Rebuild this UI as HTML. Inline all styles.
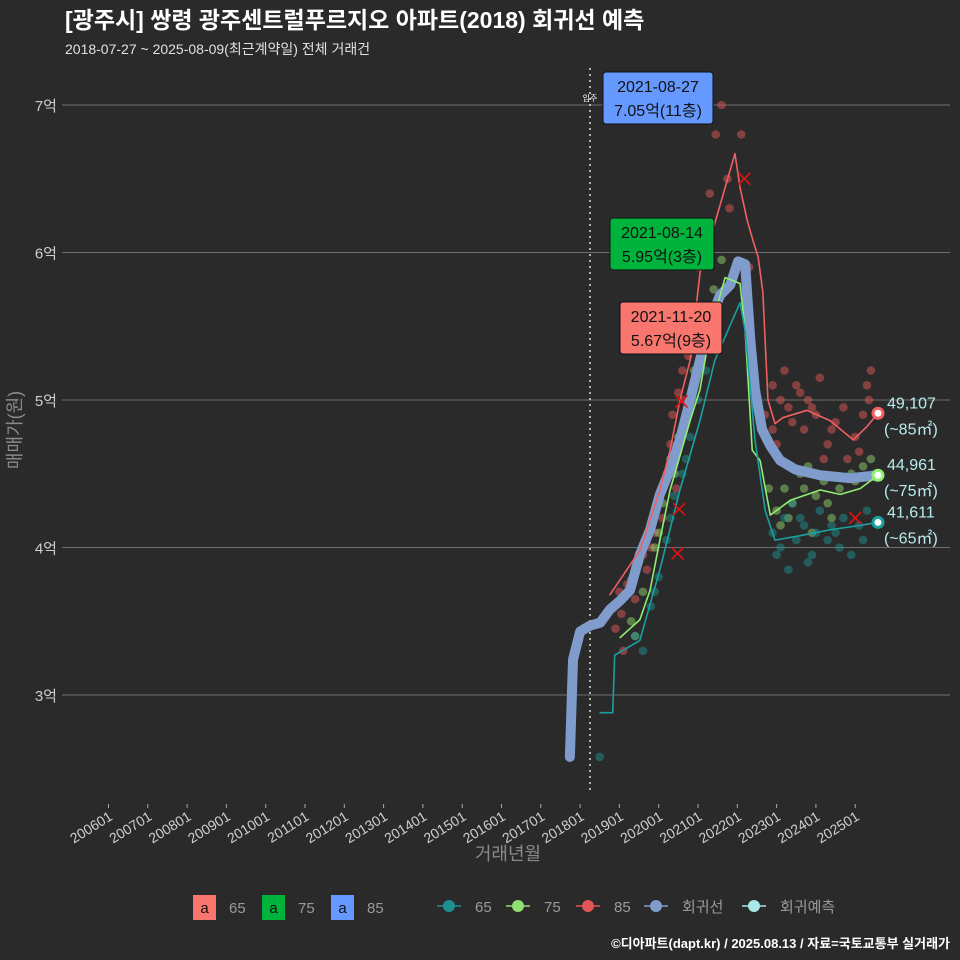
<!DOCTYPE html>
<html><head><meta charset="utf-8">
<style>
body{margin:0;background:#2a2a2b;}
svg{display:block;font-family:"Liberation Sans","Noto Sans CJK KR",sans-serif;}
</style></head>
<body>
<svg id="chart" width="960" height="960" xmlns="http://www.w3.org/2000/svg">
<rect width="960" height="960" fill="#2a2a2b"/>
<text x="65" y="28" fill="#ffffff" font-size="23" font-weight="bold">[광주시] 쌍령 광주센트럴푸르지오 아파트(2018) 회귀선 예측</text>
<text x="65" y="54" fill="#e0e0e0" font-size="14">2018-07-27 ~ 2025-08-09(최근계약일) 전체 거래건</text>
<g id="grid"></g>
<g id="marks"></g>
<text transform="translate(21,430) rotate(-90)" text-anchor="middle" fill="#8a8a8a" font-size="18">매매가(원)</text>
<text x="508" y="860" text-anchor="middle" fill="#8a8a8a" font-size="18">거래년월</text>
<g id="legend"></g>
<text x="950" y="948" text-anchor="end" fill="#ffffff" font-size="13" font-weight="bold">©디아파트(dapt.kr) / 2025.08.13 / 자료=국토교통부 실거래가</text>
</svg>
<script>
const yTicks=[3,4,5,6,7];
const yTickLabels=["3억","4억","5억","6억","7억"];
const xTickYears=[2006,2007,2008,2009,2010,2011,2012,2013,2014,2015,2016,2017,2018,2019,2020,2021,2022,2023,2024,2025];
const xTickLabels=["200601","200701","200801","200901","201001","201101","201201","201301","201401","201501","201601","201701","201801","201901","202001","202101","202201","202301","202401","202501"];
const regT=[2017.74,2017.82,2018.0,2018.25,2018.51,2018.76,2019.02,2019.27,2019.52,2019.78,2020.03,2020.29,2020.54,2020.8,2021.05,2021.31,2021.56,2021.82,2022.02,2022.2,2022.33,2022.45,2022.63,2022.84,2023.09,2023.47,2024.11,2024.87,2025.58];
const regV=[2.58,3.24,3.43,3.47,3.49,3.58,3.64,3.71,3.95,4.12,4.36,4.53,4.73,5.0,5.27,5.54,5.71,5.78,5.94,5.92,5.41,5.07,4.8,4.69,4.59,4.53,4.49,4.47,4.49];
const s85T=[2018.76,2019.52,2020.03,2020.29,2020.54,2020.8,2021.05,2021.43,2021.94,2022.07,2022.25,2022.4,2022.53,2022.65,2022.78,2022.96,2023.16,2023.77,2024.36,2024.95,2025.3,2025.58];
const s85V=[3.68,3.98,4.39,4.66,5.0,5.27,5.86,6.2,6.67,6.44,6.22,6.08,5.97,5.73,5.0,4.84,4.88,4.93,4.86,4.73,4.82,4.91];
const s75T=[2019.02,2019.52,2019.78,2020.03,2020.29,2020.8,2021.05,2021.31,2021.69,2022.07,2022.2,2022.38,2022.58,2022.84,2023.35,2024.11,2024.62,2025.13,2025.58];
const s75V=[3.39,3.51,3.71,4.05,4.39,4.86,5.07,5.47,5.83,5.79,5.47,4.66,4.59,4.22,4.32,4.39,4.36,4.4,4.49];
const s65T=[2018.51,2018.83,2018.88,2019.52,2020.03,2020.54,2021.05,2021.43,2022.07,2022.2,2022.45,2022.71,2022.96,2023.6,2024.36,2025.13,2025.58];
const s65V=[2.88,2.88,3.27,3.37,3.85,4.39,4.86,5.27,5.66,5.47,4.73,4.25,4.05,4.08,4.12,4.15,4.17];
const d85T=[2018.9,2019.0,2019.1,2019.3,2019.5,2019.7,2019.9,2020.1,2020.2,2020.35,2020.5,2020.6,2020.75,2020.9,2021.0,2021.15,2021.3,2021.45,2021.6,2021.75,2021.8,2022.1,2022.3,2022.7,2022.9,2023.0,2023.2,2023.3,2023.5,2023.7,2023.9,2024.1,2024.3,2024.5,2024.8,2025.0,2025.2,2025.3,2025.4,2024.2,2023.8,2018.85,2019.05,2019.2,2019.4,2019.6,2019.8,2020.0,2020.3,2020.45,2020.65,2021.1,2022.9,2023.1,2023.4,2023.6,2024.0,2024.4,2024.7,2025.1,2025.35];
const d85V=[3.45,3.7,3.3,3.78,3.9,3.85,4.1,4.2,4.5,4.9,5.05,5.2,5.3,5.6,5.9,6.1,6.4,6.8,7.0,6.5,6.3,6.8,5.9,4.9,5.1,4.7,5.2,4.95,5.1,4.8,4.95,5.15,4.7,4.85,4.6,4.75,4.9,5.1,5.2,4.6,5.0,3.6,3.55,3.75,3.65,3.95,4.0,4.3,4.7,4.4,5.0,5.5,4.8,5.0,4.85,5.05,4.9,4.8,4.95,4.65,5.0];
const d75T=[2019.3,2019.6,2019.9,2020.1,2020.3,2020.5,2020.7,2020.9,2021.2,2021.4,2021.6,2022.8,2023.0,2023.2,2023.4,2023.6,2023.8,2024.0,2024.2,2024.4,2024.6,2024.9,2025.2,2025.4,2023.1,2023.9,2019.4,2020.0,2020.4,2020.8,2023.3,2023.7,2024.3,2025.0];
const d75V=[3.5,3.7,4.0,4.3,4.6,4.75,4.9,5.2,5.5,5.75,5.95,4.4,4.25,4.4,4.3,4.5,4.55,4.35,4.45,4.2,4.4,4.5,4.55,4.6,4.15,4.1,3.4,4.1,4.5,5.0,4.2,4.4,4.3,4.45];
const d65T=[2018.5,2019.6,2019.8,2020.0,2020.2,2020.4,2020.6,2020.8,2021.0,2021.2,2021.4,2022.9,2023.0,2023.2,2023.3,2023.5,2023.7,2023.9,2024.1,2024.3,2024.5,2024.7,2024.9,2025.1,2025.3,2023.4,2023.8,2024.6,2019.4,2019.9,2020.3,2020.7,2023.1,2023.6,2024.0,2024.4,2025.2];
const d65V=[2.58,3.3,3.6,3.8,4.05,4.35,4.5,4.75,5.0,5.2,5.4,4.1,3.95,4.2,3.85,4.05,4.15,3.95,4.25,4.05,4.1,4.2,3.95,4.15,4.25,4.3,3.9,4.0,3.4,3.7,4.2,4.6,4.0,4.2,4.1,4.15,4.05];
const xMarkT=[2020.58,2020.52,2020.48,2022.18,2025.0];
const xMarkV=[4.99,4.26,3.96,6.5,4.2];

const X=t=>108.5+(t-2006)*39.3;
const Y=v=>105+(7-v)*147.5;
const NS="http://www.w3.org/2000/svg";
function mk(tag,attrs,parent){const e=document.createElementNS(NS,tag);for(const k in attrs)e.setAttribute(k,attrs[k]);parent.appendChild(e);return e;}
const grid=document.getElementById('grid'),marks=document.getElementById('marks'),leg=document.getElementById('legend');
yTicks.forEach((v,i)=>{
 const l=mk('line',{x1:62,x2:950,y1:Y(v),y2:Y(v),stroke:'#6e6e6e','stroke-width':1},grid);
 
 
 const t=mk('text',{x:57,y:Y(v)+6,'text-anchor':'end',fill:'#cfcfcf','font-size':15},grid);
 t.textContent=yTickLabels[i];
 
 
});
xTickYears.forEach((yr,i)=>{
 const x=X(yr);
 const tk=mk('line',{x1:x,x2:x,y1:804,y2:808,stroke:'#aaa'},grid);
 
 
 const t=mk('text',{transform:`translate(${x+5},${819}) rotate(-32)`,'text-anchor':'end',fill:'#cfcfcf','font-size':14},grid);
 t.textContent=xTickLabels[i];
 
 
});
const vl=mk('line',{x1:590,x2:590,y1:68,y2:790,stroke:'#ddd','stroke-dasharray':'2,4','stroke-width':1.5},marks);


const vt=mk('text',{x:590,y:101,'text-anchor':'middle',fill:'#fff','font-size':8},marks);
vt.textContent='입주';


function dots(T,V,col,name){T.forEach((t,i)=>{const c=mk('circle',{cx:X(t),cy:Y(V[i]),r:4.3,fill:col,'fill-opacity':0.5},marks);
 
 });}
dots(d85T,d85V,'#e05555','dot-85');
dots(d75T,d75V,'#8fcf6a','dot-75');
dots(d65T,d65V,'#1f8f8f','dot-65');
function line(T,V,col,w,name){const p=mk('polyline',{points:T.map((t,i)=>X(t)+','+Y(V[i])).join(' '),fill:'none',stroke:col,'stroke-width':w,'stroke-linejoin':'round','stroke-linecap':'round'},marks);
 
 }
line(regT,regV,'#7f9ccc',10,'regression-line');
line(s85T,s85V,'#f06060',1.6,'line-85');
line(s75T,s75V,'#90ee70',1.6,'line-75');
line(s65T,s65V,'#1aa0a0',1.6,'line-65');
xMarkT.forEach((t,i)=>{const x=X(t),y=Y(xMarkV[i]);
 const p=mk('path',{d:`M${x-6},${y-6}L${x+6},${y+6}M${x-6},${y+6}L${x+6},${y-6}`,stroke:'#e01010','stroke-width':1.6},marks);
 
 });
const ends=[[s85T,s85V,'#f06060','49,107','(~85㎡)'],[s75T,s75V,'#90ee70','44,961','(~75㎡)'],[s65T,s65V,'#1aa0a0','41,611','(~65㎡)']];
ends.forEach(e=>{const t=e[0][e[0].length-1],v=e[1][e[1].length-1],x=X(t),y=Y(v);
 const c=mk('circle',{cx:x,cy:y,r:5,fill:'#fff',stroke:e[2],'stroke-width':3},marks);
 
 
 const a=mk('text',{x:887,y:y-5,fill:'#b8ecec','font-size':16},marks);a.textContent=e[3];
 
 
 const b=mk('text',{x:884,y:y+21,fill:'#b8ecec','font-size':16},marks);b.textContent=e[4];
 
 });
const boxes=[[603,72,110,'#6699ff','2021-08-27','7.05억(11층)'],[610,218,104,'#00b33c','2021-08-14','5.95억(3층)'],[620,302,102,'#f8766d','2021-11-20','5.67억(9층)']];
boxes.forEach(b=>{
 const r=mk('rect',{x:b[0],y:b[1],width:b[2],height:52,rx:3,fill:b[3],stroke:'#111','stroke-width':1},marks);
 
 
 const t1=mk('text',{x:b[0]+b[2]/2,y:b[1]+20,'text-anchor':'middle',fill:'#111','font-size':16},marks);t1.textContent=b[4];
 
 
 const t2=mk('text',{x:b[0]+b[2]/2,y:b[1]+44,'text-anchor':'middle',fill:'#111','font-size':16},marks);t2.textContent=b[5];
 
 
});
[[193,'#f8766d','65'],[262,'#00b33c','75'],[331,'#6699ff','85']].forEach(l=>{
 const r=mk('rect',{x:l[0],y:895,width:23,height:25,fill:l[1]},leg);
 
 
 const a=mk('text',{x:l[0]+11.5,y:913,'text-anchor':'middle',fill:'#111','font-size':15},leg);a.textContent='a';
 const t=mk('text',{x:l[0]+36,y:913,fill:'#9a9a9a','font-size':15},leg);t.textContent=l[2];
 
 
});
[[449,'#1f8f8f','65'],[518,'#8fe070','75'],[588,'#e05555','85'],[656,'#7f9ccc','회귀선'],[754,'#a8e8e8','회귀예측']].forEach(l=>{
 const ln=mk('line',{x1:l[0]-12,x2:l[0]+12,y1:906,y2:906,stroke:l[1],'stroke-width':1.5},leg);
 const c=mk('circle',{cx:l[0],cy:906,r:6,fill:l[1]},leg);
 
 
 const t=mk('text',{x:l[0]+26,y:912,fill:'#9a9a9a','font-size':15},leg);t.textContent=l[2];
 
 
});
</script>
</body></html>
